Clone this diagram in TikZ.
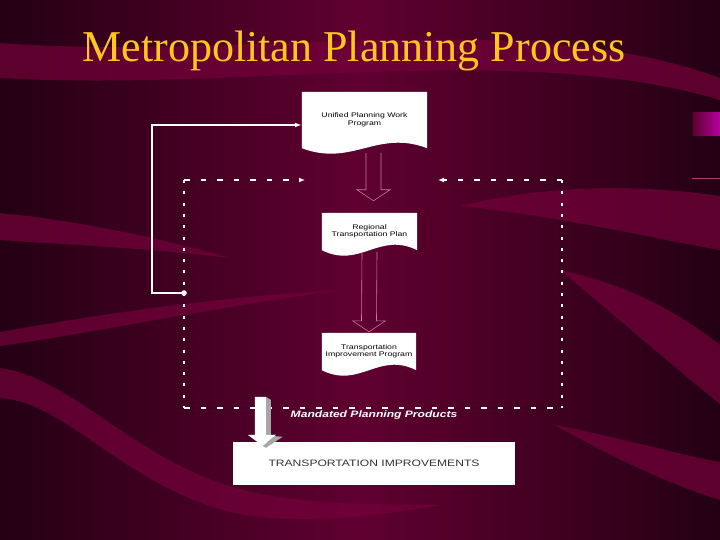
\documentclass[tikz,border=0pt]{standalone}
\usepackage{fontspec}
\setmainfont{Liberation Serif}
\newfontfamily\diagfont[FakeStretch=1.3]{Liberation Sans}
\usepackage{tikz}
\usetikzlibrary{positioning, arrows.meta, calc}
\usepackage{xcolor}

\definecolor{slidebg}{RGB}{96,0,48}
\definecolor{slidedark}{RGB}{36,0,19}
\definecolor{slideband}{RGB}{116,0,58}
\definecolor{titlegold}{RGB}{255,198,30}
\definecolor{hollowpink}{RGB}{200,125,165}

\pgfdeclarelayer{back}
\pgfdeclarelayer{paper}
\pgfsetlayers{back,paper,main}

% document shape with wavy bottom, drawn behind the node text
\newcommand{\docshape}[1]{%
  \fill[white] (#1.north west) -- (#1.north east) -- (#1.south east)
    .. controls ($(#1.south east)!0.4!(#1.south west)+(0,19pt)$) and ($(#1.south east)!0.6!(#1.south west)+(0,-19pt)$) .. (#1.south west) -- cycle;}

% outlined arrow between two coordinates
\newcommand{\hollowarrow}[2]{%
  \draw[hollow] ($(#1)+(-7.5pt,0)$) -- ($(#2)+(-7.5pt,11pt)$) -- ($(#2)+(-16.5pt,11pt)$) -- (#2)
    -- ($(#2)+(16.5pt,11pt)$) -- ($(#2)+(7.5pt,11pt)$) -- ($(#1)+(7.5pt,0)$);}

\begin{document}
\begin{tikzpicture}[
        x=1pt, y=-1pt,
        title/.style={text=titlegold, font=\fontsize{44}{50}\selectfont, inner sep=0pt},
        docbox/.style={rectangle, inner sep=0pt, align=center, text=black, font=\diagfont\fontsize{6.7}{7.5}\selectfont},
        endbox/.style={rectangle, fill=white, minimum width=282pt, minimum height=43pt, inner sep=0pt, text=black!80, font=\diagfont\fontsize{9.3}{11}\selectfont},
        mandated/.style={text=white, inner sep=0pt, font=\diagfont\bfseries\itshape\fontsize{9.3}{11}\selectfont},
        hollow/.style={draw=hollowpink, line width=0.6pt},
        feedline/.style={draw=white, line width=1.4pt},
        loopdash/.style={draw=white, line width=2pt, dash pattern=on 5.5pt off 11pt},
        loopdot/.style={draw=white, line width=2.8pt, dash pattern=on 3pt off 8.3pt},
        band/.style={fill=slideband, opacity=0.7}
    ]
        \useasboundingbox (0,0) rectangle (720,540);

        % Background
        \begin{pgfonlayer}{back}
            \shade[left color=slidedark, right color=slidedark, middle color=slidebg] (0,0) rectangle (720,540);
            \fill[band] (0,43) .. controls (250,62) and (520,5) .. (720,78) -- (720,100) .. controls (520,40) and (250,92) .. (0,78) -- cycle;
            \fill[band] (0,213) .. controls (70,220) and (150,235) .. (230,258) .. controls (150,248) and (70,245) .. (0,240) -- cycle;
            \fill[band] (0,332) .. controls (80,318) and (200,298) .. (340,290) .. controls (200,310) and (80,335) .. (0,346) -- cycle;
            \fill[band] (0,368) .. controls (80,380) and (140,470) .. (260,494) .. controls (330,506) and (390,504) .. (440,505) .. controls (390,514) and (320,524) .. (250,516) .. controls (130,495) and (70,402) .. (0,398) -- cycle;
            \fill[band] (460,206) .. controls (560,182) and (650,186) .. (720,196) -- (720,250) .. controls (650,238) and (560,216) .. (460,206) -- cycle;
            \fill[band] (560,270) .. controls (640,288) and (685,318) .. (720,345) -- (720,404) .. controls (680,372) and (620,320) .. (560,270) -- cycle;
            \fill[band] (555,425) .. controls (630,440) and (680,455) .. (720,462) -- (720,500) .. controls (680,488) and (620,462) .. (555,425) -- cycle;
            \shade[left color=slidebg, right color=magenta!55!slidebg] (693,113) rectangle (720,136);
            \draw[magenta!45!slidebg, line width=1pt] (692,179) -- (720,179);
        \end{pgfonlayer}

        % Title
        \node[title, anchor=base] (ttl) at (354,62) {Metropolitan Planning Process};

        % Planning products
        \node[docbox, minimum width=125pt, minimum height=56pt] (upwp) at (364.5,120) {Unified Planning Work\\Program};
        \node[docbox, minimum width=95pt, minimum height=37pt] (rtp) at (369.5,231.5) {Regional\\Transportation Plan};
        \node[docbox, minimum width=94pt, minimum height=37pt] (tip) at (369,351.5) {Transportation\\Improvement Program};

        \begin{pgfonlayer}{paper}
            \docshape{upwp}
            \docshape{rtp}
            \docshape{tip}
        \end{pgfonlayer}

        % Result
        \node[endbox] (ti) at (374,463.5) {TRANSPORTATION IMPROVEMENTS};
        \node[mandated] (mpp) at (374,415) {Mandated Planning Products};

        % Flow arrows
        \coordinate (a1s) at ($(upwp.south)+(9pt,-5pt)$);
        \coordinate (a1t) at ($(rtp.north)+(4pt,12pt)$);
        \coordinate (a2s) at ($(rtp.south)+(0,-2pt)$);
        \coordinate (a2t) at ($(tip.north)+(0,1pt)$);
        \hollowarrow{a1s}{a1t}
        \hollowarrow{a2s}{a2t}

        % Feedback loop
        \coordinate (loopnw) at (184,180);
        \coordinate (loopne) at (562,180);
        \coordinate (loopsw) at (184,408);
        \coordinate (loopse) at (562,408);
        \coordinate (backl) at (305,180);
        \coordinate (backr) at (438,180);
        \coordinate (fb) at (184,293);

        \draw[loopdot] (loopnw) -- (loopsw);
        \draw[loopdot] (loopne) -- (loopse);
        \draw[loopdash] (loopsw) -- (loopse);
        \draw[loopdash, -{Latex[length=6pt,width=5pt]}] (loopnw) -- (backl);
        \draw[loopdash, -{Latex[length=6pt,width=5pt]}] (loopne) -- (backr);
        \draw[feedline, -{Latex[length=7pt,width=5pt]}] (fb) -- ++(-32,0) |- ([yshift=-5pt]upwp.west);
        \fill[white] (fb) circle (2.8pt);

        % Block arrow down to the improvements
        \begin{scope}[shift={(ti.north west)}]
            \fill[black!35] (33,-45) -- (38,-42) -- (38,-6) -- (50,-5) -- (33,6) -- (30,4) -- (43,-7) -- (33,-7) -- cycle;
            \fill[white] (22,-45) -- (33,-45) -- (33,-7) -- (43,-7) -- (30,4) -- (15,-7) -- (22,-7) -- cycle;
            \fill[black!15] (15,-7) -- (30,4) -- (33,6) -- (22,-2) -- cycle;
        \end{scope}
    \end{tikzpicture}
\end{document}
